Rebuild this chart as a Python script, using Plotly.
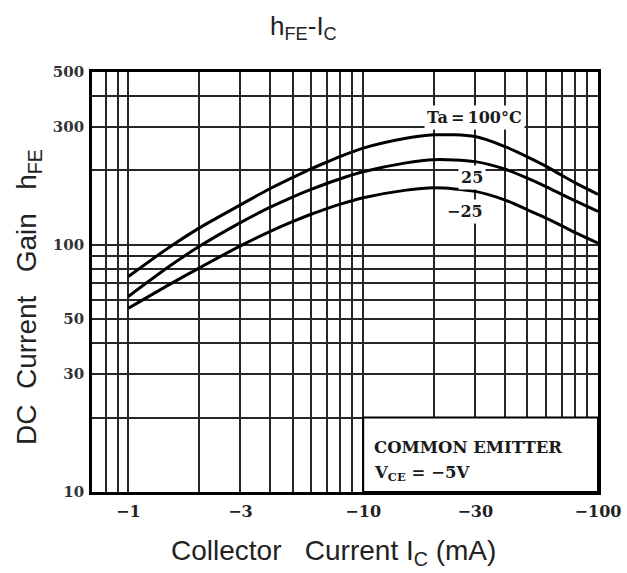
import plotly.graph_objects as go
import math

# ---- data ----
ic_ma = [1, 1.5, 2, 3, 4, 5, 6, 7, 8, 10, 15, 20, 30, 40, 50, 60, 70, 80, 100]
hfe_100 = [74.4, 98, 116.8, 145, 168.5, 187, 203, 216, 227.7, 246, 269, 278.5, 274, 250, 227, 208, 191, 178, 160]
hfe_25 = [61.8, 82, 98.4, 123, 141.6, 156, 167.5, 177, 185, 197.4, 214, 221, 217, 202.5, 186, 172, 160, 150.5, 136.5]
hfe_m25 = [55.4, 69.2, 80.5, 99, 113, 124, 132.9, 140, 146, 155, 166, 170, 164.5, 152, 138.6, 128.3, 119.5, 112, 101.6]

x_grid = [0.8, 0.9, 1, 2, 3, 4, 5, 6, 7, 8, 9, 10, 20, 30, 40, 50, 60, 70, 80, 90, 100]
x_labels = {1: "\u22121", 3: "\u22123", 10: "\u221210", 30: "\u221230", 100: "\u2212100"}
y_grid = [10, 20, 30, 40, 50, 60, 70, 80, 90, 100, 200, 300, 400, 500]
y_labels = {10: "10", 30: "30", 50: "50", 100: "100", 300: "300", 500: "500"}

fig = go.Figure()
for ys in (hfe_100, hfe_25, hfe_m25):
    fig.add_trace(go.Scatter(x=ic_ma, y=ys, mode="lines",
                             line=dict(color="black", width=3, shape="spline", smoothing=0.8),
                             showlegend=False, hoverinfo="skip"))

grid_col = "#262626"
fig.update_xaxes(type="log", range=[math.log10(0.7), 2],
                 tickmode="array", tickvals=x_grid,
                 ticktext=[x_labels.get(v, "") for v in x_grid],
                 showgrid=True, gridcolor=grid_col, gridwidth=1.6,
                 showline=True, mirror=True, linecolor="black", linewidth=2.8,
                 ticks="", ticklabelstandoff=3,
                 tickfont=dict(family="DejaVu Serif", size=16, color="#222", weight="bold"),
                 zeroline=False)
fig.update_yaxes(type="log", range=[1, math.log10(500)],
                 tickmode="array", tickvals=y_grid,
                 ticktext=[y_labels.get(v, "") for v in y_grid],
                 showgrid=True, gridcolor=grid_col, gridwidth=1.6,
                 showline=True, mirror=True, linecolor="black", linewidth=2.8,
                 ticks="", ticklabelstandoff=2,
                 tickfont=dict(family="DejaVu Serif", size=15, color="#333", weight="bold"),
                 zeroline=False)

# COMMON EMITTER box
fig.add_shape(type="rect", xref="x", yref="y", x0=10, x1=100, y0=10, y1=20,
              fillcolor="white", line=dict(color="black", width=2), layer="above")

serif = dict(family="DejaVu Serif", size=16, color="#1a1a1a", weight="bold")
ann = [
    dict(text="Ta\u2009=\u2009100\u00b0C", x=math.log10(29.7), y=math.log10(327)),
    dict(text="25", x=math.log10(29.1), y=math.log10(187)),
    dict(text="\u221225", x=math.log10(27.2), y=math.log10(136)),
]
for a in ann:
    fig.add_annotation(xref="x", yref="y", showarrow=False, bgcolor="white",
                       borderpad=2, font=serif, xanchor="center", yanchor="middle", **a)

box_font = dict(family="DejaVu Serif", size=16.5, color="#1a1a1a", weight="bold")
fig.add_annotation(xref="x", yref="y", x=math.log10(10.9), y=math.log10(15.2),
                   text="COMMON EMITTER", showarrow=False, xanchor="left", yanchor="middle",
                   font=box_font)
fig.add_annotation(xref="x", yref="y", x=math.log10(10.9), y=math.log10(11.9),
                   text="V<sub>CE</sub> = \u22125V", showarrow=False,
                   xanchor="left", yanchor="middle", font=box_font)

sans = "Liberation Sans"
fig.add_annotation(xref="paper", yref="paper", x=(303 - 92) / 506, y=(492 - 28) / 420,
                   text="h<sub>FE</sub>-I<sub>C</sub>", showarrow=False,
                   xanchor="center", yanchor="middle",
                   font=dict(family=sans, size=26, color="#222"))
fig.add_annotation(xref="paper", yref="paper", x=(28 - 92) / 506, y=(492 - 297) / 420,
                   text="DC\u00a0\u00a0Current\u00a0\u00a0\u00a0Gain\u00a0\u00a0\u00a0h<sub>FE</sub>",
                   textangle=-90, showarrow=False, xanchor="center", yanchor="middle",
                   font=dict(family=sans, size=28, color="#222"))
fig.add_annotation(xref="paper", yref="paper", x=(333 - 92) / 506, y=(492 - 552) / 420,
                   text="Collector\u00a0\u00a0\u00a0Current I<sub>C</sub> (mA)", showarrow=False,
                   xanchor="center", yanchor="middle",
                   font=dict(family=sans, size=28, color="#222"))

fig.update_layout(width=627, height=573,
                  margin=dict(l=92, r=29, t=72, b=81, autoexpand=False),
                  paper_bgcolor="white", plot_bgcolor="white")

fig.write_html("out.html")
